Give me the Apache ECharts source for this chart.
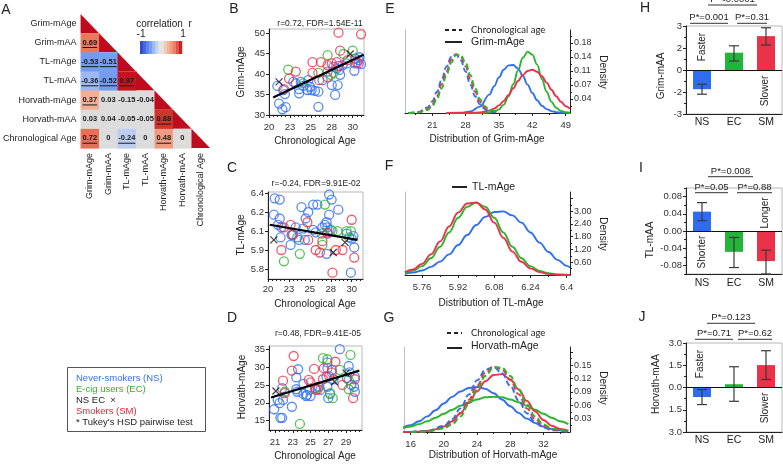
<!DOCTYPE html>
<html><head><meta charset="utf-8">
<script src="https://cdn.jsdelivr.net/npm/echarts@6/dist/echarts.min.js"></script>
<style>html,body{margin:0;padding:0;background:#fff}#c{width:783px;height:464px}</style>
</head><body><div id="c"></div>
<script>
// ---------------- DATA ----------------
// A: correlation matrix (lower triangle)
const corrLabels = ['Grim-mAge','Grim-mAA','TL-mAge','TL-mAA','Horvath-mAge','Horvath-mAA','Chronological Age'];
const corrRows = [[], ['0.69'], ['-0.53','-0.51'], ['-0.36','-0.52','0.97'], ['0.37','0.03','-0.15','-0.04'], ['0.03','0.04','-0.05','-0.05','0.88'], ['0.72','0','-0.24','0','0.48','0']];
const corrSig = [[], [1], [1,1], [1,1,1], [1,0,0,0], [0,0,0,0,1], [1,0,1,0,1,0]];

// B: Grim-mAge vs chronological age
const B_NS = [[21.0,37.1],[21.2,32.8],[21.6,31.4],[22.0,31.9],[21.7,36.1],[21.9,35.1],[22.9,38.1],[23.2,37.7],[23.6,36.3],[23.6,35.3],[23.8,38.1],[24.1,37.1],[24.6,36.1],[24.9,36.9],[24.7,38.5],[25.1,36.1],[25.5,35.9],[25.9,35.7],[25.9,32.0],[26.4,38.5],[27.0,40.6],[27.5,37.3],[27.7,41.8],[27.9,34.9],[28.2,37.3],[28.1,41.4],[28.4,41.0],[28.8,42.2],[29.3,42.6],[30.2,40.8],[30.3,42.6],[30.7,43.4],[30.8,44.1],[31.0,42.4],[30.3,43.8],[28.5,39.8]];
const B_EC = [[22.3,41.1],[24.1,37.7],[25.9,40.3],[27.0,44.6],[27.4,39.8],[27.7,40.3],[30.0,45.7],[28.9,44.9]];
const B_SM = [[28.3,50.1],[31.0,49.7],[28.5,45.7],[23.2,40.6],[22.4,38.9],[25.2,42.9],[25.2,40.3],[26.2,42.9],[27.0,42.2],[27.5,42.6],[28.1,42.9],[29.4,43.4],[30.5,42.8],[30.7,42.6],[27.0,39.2],[26.0,38.5],[21.8,36.3],[28.3,42.0]];
const B_X = [[21.2,38.1],[29.7,44.9]];
const B_fit = [[20.5,34.3],[31.3,44.7]];

// C: TL-mAge vs chronological age
const C_NS = [[20.8,6.36],[21.4,6.35],[20.7,6.23],[21.4,6.20],[21.2,6.15],[21.6,6.13],[21.5,6.05],[22.8,6.07],[23.0,6.07],[22.7,5.99],[23.3,6.13],[23.5,6.05],[23.7,6.03],[24.0,6.29],[24.2,6.12],[24.5,6.20],[24.8,6.25],[24.4,6.03],[25.4,6.31],[25.9,6.31],[25.4,6.11],[25.7,6.09],[26.5,6.13],[26.8,6.15],[27.0,6.17],[27.3,6.39],[27.6,6.35],[27.3,6.23],[27.1,6.13],[27.5,6.11],[27.0,5.92],[27.1,6.08],[28.4,6.27],[29.4,6.08],[29.7,6.05],[30.0,6.04],[30.2,6.06],[30.3,5.97],[29.9,5.77]];
const C_EC = [[21.9,5.86],[23.8,5.92],[26.8,6.31],[26.4,6.08],[26.5,5.99],[27.7,6.10],[28.3,6.10],[29.4,6.10],[29.9,6.10]];
const C_SM = [[21.9,6.13],[22.7,6.15],[21.6,5.95],[22.9,6.07],[24.7,6.17],[24.8,6.03],[25.7,5.95],[26.2,5.93],[26.5,6.02],[27.1,6.09],[28.1,5.95],[28.9,5.95],[30.0,6.19],[30.3,5.89],[27.7,5.77]];
const C_X = [[20.7,6.03],[27.8,5.93],[29.2,6.01]];
const C_fit = [[20.2,6.15],[30.7,6.03]];

// D: Horvath-mAge vs chronological age
const D_NS = [[20.9,18.2],[21.3,20.8],[21.5,19.9],[21.6,15.8],[21.8,15.8],[21.8,24.1],[21.9,20.8],[22.9,18.9],[23.4,27.1],[23.6,29.4],[23.4,23.8],[23.5,23.1],[24.2,25.3],[24.2,22.5],[24.6,22.2],[24.9,23.6],[25.0,21.9],[24.5,21.9],[25.5,24.1],[25.9,24.5],[26.1,23.6],[26.8,27.3],[26.9,29.7],[26.9,31.3],[26.9,24.5],[27.0,21.3],[27.2,22.5],[27.4,29.2],[27.6,26.6],[28.3,35.0],[29.1,26.9],[29.3,30.3],[29.4,28.5],[29.6,25.0],[30.0,27.3],[29.9,24.5],[30.0,23.1]];
const D_EC = [[22.1,23.1],[23.8,14.1],[25.6,24.1],[26.4,32.5],[26.9,32.2],[27.2,22.7],[27.5,21.3],[28.3,29.2],[29.3,26.4],[29.5,33.4],[29.3,23.8]];
const D_SM = [[21.9,26.2],[22.9,29.0],[23.1,33.1],[22.1,22.7],[24.8,26.4],[25.0,25.7],[25.4,29.5],[25.6,23.6],[25.8,23.8],[26.4,26.6],[26.5,29.7],[27.1,27.5],[27.4,28.5],[27.8,31.5],[28.6,25.0],[29.8,21.3],[30.0,26.6]];
const D_X = [[21.1,23.3],[29.0,28.3],[27.7,25.9]];
const D_fit = [[20.55,21.5],[30.5,29.0]];

// E: density of chronological age (dashed) and Grim-mAge (solid)
const chronoX = [16,18,20,21,22,23,24,25,26,27,28,29,30,31,32,33,35];
const chrono_NS = [0,0.002,0.0136,0.029,0.053,0.084,0.116,0.140,0.146,0.132,0.104,0.071,0.042,0.022,0.010,0.004,0];
const chrono_EC = [0,0.001,0.0076,0.017,0.035,0.062,0.095,0.126,0.145,0.145,0.126,0.095,0.062,0.035,0.017,0.0076,0.001];
const chrono_SM = [0,0.0013,0.0097,0.022,0.042,0.072,0.104,0.133,0.147,0.141,0.117,0.085,0.053,0.029,0.014,0.006,0.0006];
const grimX = [24,27,29,31,33,34,35,36,37,38,39,40,41,42,43,44,45,46,47,48,49,49.9];
const grim_NS = [0,0.0007,0.004,0.016,0.046,0.067,0.089,0.108,0.119,0.120,0.111,0.093,0.071,0.050,0.032,0.018,0.0098,0.0047,0.002,0.0008,0.0003,0.0001];
const grim_EC = [0,0,0,0,0.001,0.0033,0.009,0.021,0.041,0.072,0.107,0.138,0.153,0.146,0.121,0.085,0.053,0.028,0.013,0.005,0.0017,0.0005];
const grim_SM = [0,0,0.0002,0.0014,0.006,0.011,0.019,0.030,0.045,0.062,0.080,0.095,0.105,0.108,0.103,0.092,0.076,0.058,0.042,0.028,0.017,0.0105];

// F: density of TL-mAge
const tlX = [5.685,5.72,5.76,5.80,5.84,5.88,5.92,5.96,6.00,6.04,6.08,6.12,6.16,6.20,6.24,6.28,6.32,6.36,6.40,6.415];
const tl_NS = [0.06,0.11,0.21,0.38,0.63,0.97,1.41,1.88,2.35,2.73,2.96,2.99,2.80,2.46,2.00,1.52,1.08,0.71,0.43,0.35];
const tl_EC = [0.10,0.195,0.415,0.79,1.33,2.00,2.69,3.21,3.40,3.21,2.69,2.00,1.33,0.79,0.415,0.195,0.08,0.03,0.01,0.007];
const tl_SM = [0.137,0.256,0.523,0.971,1.575,2.28,2.94,3.36,3.41,3.08,2.46,1.75,1.10,0.62,0.31,0.137,0.053,0.019,0.006,0.004];

// G: density of Horvath-mAge (solid); dashed = chronological age (same as E)
const horX = [15,16,17,18,19,20,21,22,23,24,25,26,27,28,29,30,31,32,33,34,35];
const hor_NS = [0.009,0.015,0.024,0.035,0.049,0.064,0.079,0.091,0.099,0.101,0.097,0.087,0.073,0.058,0.043,0.030,0.020,0.012,0.007,0.004,0.002];
const hor_EC = [0.0084,0.0125,0.0177,0.024,0.032,0.041,0.050,0.059,0.067,0.073,0.078,0.079,0.078,0.073,0.067,0.059,0.050,0.041,0.032,0.024,0.0177];
const hor_SM = [0,0.0003,0.0009,0.0024,0.0058,0.0125,0.024,0.042,0.065,0.091,0.114,0.128,0.130,0.118,0.096,0.070,0.046,0.027,0.014,0.0069,0.003];

// H, I, J: group means with error bars
const groups = ['NS','EC','SM'];
const H_mean = [-1.31, 1.18, 2.31], H_lo = [-1.65, 0.61, 1.70], H_hi = [-0.97, 1.65, 2.88];
const I_mean = [0.045, -0.0485, -0.070], I_lo = [0.024, -0.085, -0.10], I_hi = [0.066, -0.015, -0.0445];
const J_mean = [-0.64, 0.22, 1.51], J_lo = [-1.15, -0.93, 0.54], J_hi = [-0.14, 1.40, 2.48];

// tick values and labels
const B_xTicks = [20,22.5,25,27.5,30], B_xLabels = ['20','23','25','28','30'];
const B_yTicks = [30,35,40,45,50], B_yLabels = ['30','35','40','45','50'];
const C_yTicks = [5.8,5.95,6.1,6.25,6.4], C_yLabels = ['5.8','5.9','6.1','6.2','6.4'];
const D_xTicks = [21,23,25,27,29], D_xLabels = ['21','23','25','27','29'];
const D_yTicks = [15,20,25,30,35], D_yLabels = ['15','20','25','30','35'];
const E_xTicks = [21,28,35,42,49], E_xLabels = ['21','28','35','42','49'];
const E_yTicks = [0.035,0.07,0.105,0.14,0.175], E_yLabels = ['0.04','0.07','0.11','0.14','0.18'];
const F_xTicks = [5.76,5.92,6.08,6.24,6.40], F_xLabels = ['5.76','5.92','6.08','6.24','6.4'];
const F_yTicks = [0.6,1.2,1.8,2.4,3.0,3.6], F_yLabels = ['0.60','1.20','1.80','2.40','3.00',''];
const G_xTicks = [16,20,24,28,32], G_xLabels = ['16','20','24','28','32'];
const G_yTicks = [0.03,0.06,0.09,0.12,0.15,0.18], G_yLabels = ['0.03','0.06','0.09','0.12','0.15',''];
const H_yTicks = [-3,-1.5,0,1.5,3], H_yLabels = ['-3','-2','0','2','3'];
const I_yTicks = [-0.08,-0.04,0,0.04,0.08], I_yLabels = ['-0.08','-0.04','0.00','0.04','0.08'];
const J_yTicks = [-3,-1.5,0,1.5,3], J_yLabels = ['3.0','1.5','0.0','1.5','3.0'];

// ---------------- STYLE ----------------
const FONT = "'Liberation Sans', Arial, sans-serif";
const C_NSc = '#2f6ff0', C_ECc = '#2db52e', C_SMc = '#e8334a';
const BAR_COLORS = ['#2f6cf3', '#22b53a', '#ea3249'];
const DIAG = '#c00a1e';

const grids = [], xAxes = [], yAxes = [], series = [], graphics = [];
function grid(l,t,w,h,show){ grids.push({left:l,top:t,width:w,height:h,show:!!show,borderColor:'#b8b8b8',borderWidth:1}); return grids.length-1; }
function fmt(v,ticks,labels){ for(let i=0;i<ticks.length;i++){ if(Math.abs(v-ticks[i])<1e-7) return labels[i]; } return ''; }
function vAxis(kind,g,pos,min,max,ticks,labels,o){
  o=o||{};
  const ax = {type:'value',gridIndex:g,position:pos,min,max,
    axisLine:{show:true,onZero:false,lineStyle:{color:'#222',width:1}},
    axisTick:{show:true,inside:false,length:3,customValues:ticks,lineStyle:{color:'#222',width:1}},
    axisLabel:{show:true,customValues:ticks,margin:o.margin==null?4:o.margin,fontSize:o.size||9.5,fontFamily:FONT,color:'#333',
      formatter:(v)=>fmt(v,ticks,labels)},
    splitLine:{show:false}};
  if(kind==='x'){ xAxes.push(ax); return xAxes.length-1; } yAxes.push(ax); return yAxes.length-1;
}
function mAxis(kind,g,pos,min,max,vals){
  const ax = {type:'value',gridIndex:g,position:pos,min,max,axisLine:{show:false},
    axisTick:{show:true,length:2,customValues:vals,lineStyle:{color:'#222',width:1}},
    axisLabel:{show:false},splitLine:{show:false}};
  if(kind==='x'){ xAxes.push(ax); return xAxes.length-1; } yAxes.push(ax); return yAxes.length-1;
}
function plainAxis(kind,g,pos,min,max,color){
  const ax = {type:'value',gridIndex:g,position:pos,min,max,axisLine:{show:true,onZero:false,lineStyle:{color:color,width:1}},
    axisTick:{show:false},axisLabel:{show:false},splitLine:{show:false}};
  if(kind==='x'){ xAxes.push(ax); return xAxes.length-1; } yAxes.push(ax); return yAxes.length-1;
}
function minors(min,max,step,majors){ const out=[]; for(let v=Math.ceil(min/step)*step; v<=max+1e-9; v+=step){ const r=Math.round(v*1e6)/1e6; if(!majors.some(m=>Math.abs(m-r)<1e-7)) out.push(r);} return out; }

function txt(x,y,text,o){ o=o||{}; graphics.push({type:'text',x,y,rotation:o.rot||0,z:100,silent:true,
  style:{text,fill:o.color||'#222',fontSize:o.size||10,fontWeight:o.weight||'normal',fontFamily:o.family||FONT,
  align:o.align||'center',verticalAlign:'middle',textAlign:o.align||'center',textVerticalAlign:'middle'}}); }
function ln(x1,y1,x2,y2,o){ o=o||{}; graphics.push({type:'line',z:100,silent:true,shape:{x1,y1,x2,y2},style:{stroke:o.color||'#222',lineWidth:o.w||1,lineDash:o.dash||null}}); }

function scat(xi,yi,data,color){ series.push({type:'scatter',xAxisIndex:xi,yAxisIndex:yi,data,symbol:'circle',symbolSize:9,
  itemStyle:{color:'rgba(255,255,255,0)',borderColor:color,borderWidth:1.3},silent:true,z:3}); }
function cross(xi,yi,data){ series.push({type:'scatter',xAxisIndex:xi,yAxisIndex:yi,data,symbol:'path://M0 0L10 10M10 0L0 10',symbolSize:7,
  itemStyle:{color:'rgba(0,0,0,0)',borderColor:'#111',borderWidth:1.2},silent:true,z:4}); }
function fitLine(xi,yi,data){ series.push({type:'line',xAxisIndex:xi,yAxisIndex:yi,data,symbol:'none',lineStyle:{color:'#000',width:2.2},silent:true,z:6}); }
function curve(xi,yi,xs,ys,color,dashed){ series.push({type:'line',xAxisIndex:xi,yAxisIndex:yi,data:xs.map((x,i)=>[x,ys[i]]),
  smooth:0.4,smoothMonotone:'x',symbol:'none',clip:true,lineStyle:{color,width:1.9,type:dashed?[6,3]:'solid'},silent:true,z:dashed?4:3}); }

// ---------------- A: heatmap ----------------
const gA = grid(76,14,134,134,false);
xAxes.push({type:'category',gridIndex:gA,data:corrLabels,position:'bottom',axisLine:{show:false},axisTick:{show:false},
  axisLabel:{rotate:90,interval:0,margin:5,fontSize:9,fontFamily:FONT,color:'#222'},splitLine:{show:false}});
const xA = xAxes.length-1;
yAxes.push({type:'category',gridIndex:gA,data:corrLabels,inverse:true,axisLine:{show:false},axisTick:{show:false},
  axisLabel:{interval:0,margin:4,fontSize:9,fontFamily:FONT,color:'#222'},splitLine:{show:false}});
const yA = yAxes.length-1;
const heatItems = [];
for(let r=0;r<corrLabels.length;r++){
  for(let c=0;c<=r;c++){
    if(c===r) heatItems.push({c,r,diag:true});
    else heatItems.push({c,r,txt:corrRows[r][c],v:parseFloat(corrRows[r][c]),sig:!!corrSig[r][c]});
  }
}
const cStops = [[-1,[40,62,205]],[-0.5,[120,160,242]],[-0.25,[186,205,240]],[0,[236,236,236]],[0.4,[243,170,142]],[0.7,[233,118,90]],[0.9,[206,44,40]],[1,[192,10,30]]];
function corrColor(v){
  for(let i=0;i<cStops.length-1;i++){ const a=cStops[i],b=cStops[i+1]; if(v<=b[0]){ const t=(v-a[0])/(b[0]-a[0]);
    const c=a[1].map((x,k)=>Math.round(x+(b[1][k]-x)*t)); return 'rgb('+c.join(',')+')'; } }
  return 'rgb(192,10,30)';
}
const mctx = document.createElement('canvas').getContext('2d');
mctx.font = "bold 7.5px 'Liberation Sans'";
series.push({type:'custom',xAxisIndex:xA,yAxisIndex:yA,data:heatItems.map(it=>[it.c,it.r]),silent:true,z:2,
  renderItem:function(params,api){
    const it = heatItems[params.dataIndex];
    const p = api.coord([it.c,it.r]); const s = api.size([1,1]);
    const x0=p[0]-s[0]/2, y0=p[1]-s[1]/2, w=s[0], h=s[1];
    if(it.diag) return {type:'polygon',shape:{points:[[x0,y0],[x0,y0+h],[x0+w,y0+h]]},style:{fill:DIAG}};
    const fill = it.sig ? corrColor(it.v) : '#dcdcdc';
    const ch = [{type:'rect',shape:{x:x0,y:y0,width:w+0.6,height:h+0.6},style:{fill}}];
    ch.push({type:'text',style:{text:it.txt,x:p[0],y:p[1],align:'center',verticalAlign:'middle',textAlign:'center',textVerticalAlign:'middle',
      fontSize:7.5,fontWeight:'bold',fontFamily:'Liberation Sans',fill:'#1a1a1a'}});
    if(it.sig){ const tw = mctx.measureText(it.txt).width; ch.push({type:'line',shape:{x1:p[0]-tw/2,y1:p[1]+4.8,x2:p[0]+tw/2,y2:p[1]+4.8},style:{stroke:'#1a1a1a',lineWidth:1}}); }
    return {type:'group',children:ch};
  }});
// colour bar
txt(164,24,'correlation  r',{size:10});
txt(141,34.5,'-1',{size:10});
txt(183,34.5,'1',{size:10});
for(let i=0;i<14;i++){ const v=-1+(i+0.5)*2/14; graphics.push({type:'rect',z:100,silent:true,shape:{x:140+i*3,y:41,width:3.2,height:13},style:{fill:corrColor(v)}}); }
txt(6,10,'A',{size:14});

// ---------------- B, C, D scatter ----------------
function scatterPanel(l,t,w,h,xr,yr,xT,xL,yT,yL,xm,ym,NS,EC,SM,X,fit,xMinorStep){
  const g = grid(l,t,w,h,true);
  const xi = vAxis('x',g,'bottom',xr[0],xr[1],xT,xL,{margin:xm});
  const yi = vAxis('y',g,'left',yr[0],yr[1],yT,yL,{margin:ym});
  mAxis('x',g,'bottom',xr[0],xr[1],minors(xr[0],xr[1],xMinorStep,xT));
  scat(xi,yi,NS,C_NSc); scat(xi,yi,EC,C_ECc); scat(xi,yi,SM,C_SMc); cross(xi,yi,X); fitLine(xi,yi,fit);
}
scatterPanel(269,29,95,86,[20,31.35],[30,51],B_xTicks,B_xLabels,B_yTicks,B_yLabels,7,4,B_NS,B_EC,B_SM,B_X,B_fit,0.5);
scatterPanel(268,192,95,87,[20,31.35],[5.72,6.41],B_xTicks,B_xLabels,C_yTicks,C_yLabels,5,4,C_NS,C_EC,C_SM,C_X,C_fit,0.5);
scatterPanel(269,346,93,84,[20.32,30.8],[12.4,35.9],D_xTicks,D_xLabels,D_yTicks,D_yLabels,7,4,D_NS,D_EC,D_SM,D_X,D_fit,0.5);
txt(234,9,'B',{size:14}); txt(232,168,'C',{size:14}); txt(232,318,'D',{size:14});
txt(320,23.5,'r=0.72, FDR=1.54E-11',{size:8.5});
txt(316,183.5,'r=-0.24, FDR=9.91E-02',{size:8.5});
txt(318,333.5,'r=0.48, FDR=9.41E-05',{size:8.5});
txt(241,72,'Grim-mAge',{size:10,rot:Math.PI/2});
txt(241,235,'TL-mAge',{size:10,rot:Math.PI/2});
txt(242,387,'Horvath-mAge',{size:10,rot:Math.PI/2});
txt(315,141.5,'Chronological Age',{size:10});
txt(315,304,'Chronological Age',{size:10});
txt(315,456.5,'Chronological Age',{size:10});

// ---------------- E, F, G densities ----------------
function densPanel(l,t,w,h,xr,yr,xT,xL,yT,yL,xMin,yMin){
  const g = grid(l,t,w,h,false);
  const xi = vAxis('x',g,'bottom',xr[0],xr[1],xT,xL,{margin:7,size:9.5});
  const yi = vAxis('y',g,'right',yr[0],yr[1],yT,yL,{margin:4,size:9});
  mAxis('x',g,'bottom',xr[0],xr[1],xMin);
  mAxis('y',g,'right',yr[0],yr[1],yMin);
  plainAxis('y',g,'left',yr[0],yr[1],'#bdbdbd');
  return [xi,yi];
}
let ax = densPanel(405,30,165,83,[15.3,49.9],[0,0.2075],E_xTicks,E_xLabels,E_yTicks,E_yLabels,[17.5,24.5,31.5,38.5,45.5],[0.0175,0.0525,0.0875,0.1225,0.1575,0.1925]);
curve(ax[0],ax[1],grimX,grim_NS,C_NSc,false); curve(ax[0],ax[1],grimX,grim_EC,C_ECc,false); curve(ax[0],ax[1],grimX,grim_SM,C_SMc,false);
curve(ax[0],ax[1],chronoX,chrono_NS,C_NSc,true); curve(ax[0],ax[1],chronoX,chrono_SM,C_SMc,true); curve(ax[0],ax[1],chronoX,chrono_EC,C_ECc,true);
ax = densPanel(405,192,165,83,[5.685,6.415],[0,3.9],F_xTicks,F_xLabels,F_yTicks,F_yLabels,[5.84,6.0,6.16,6.32],[0.3,0.9,1.5,2.1,2.7,3.3]);
curve(ax[0],ax[1],tlX,tl_NS,C_NSc,false); curve(ax[0],ax[1],tlX,tl_EC,C_ECc,false); curve(ax[0],ax[1],tlX,tl_SM,C_SMc,false);
ax = densPanel(404,347,166,85,[15.2,35.2],[0,0.191],G_xTicks,G_xLabels,G_yTicks,G_yLabels,[18,22,26,30,34],[0.015,0.045,0.075,0.105,0.135,0.165]);
curve(ax[0],ax[1],horX,hor_NS,C_NSc,false); curve(ax[0],ax[1],horX,hor_EC,C_ECc,false); curve(ax[0],ax[1],horX,hor_SM,C_SMc,false);
curve(ax[0],ax[1],chronoX,chrono_NS,C_NSc,true); curve(ax[0],ax[1],chronoX,chrono_SM,C_SMc,true); curve(ax[0],ax[1],chronoX,chrono_EC,C_ECc,true);
txt(390,9,'E',{size:14}); txt(389,166,'F',{size:14}); txt(389,318,'G',{size:14});
// legends
ln(445,30,462,30,{w:2,dash:[4,3]}); txt(471,30,'Chronological age',{size:9.5,align:'left',family:"Lato, 'Open Sans', sans-serif"});
ln(445,42,462,42,{w:2}); txt(471,42,'Grim-mAge',{size:10.5,align:'left'});
ln(452,187,467,187,{w:2}); txt(472,187,'TL-mAge',{size:10.5,align:'left'});
ln(447,333,462,333,{w:2,dash:[4,3]}); txt(471,333,'Chronological age',{size:9.5,align:'left',family:"Lato, 'Open Sans', sans-serif"});
ln(447,348,462,348,{w:2}); txt(471,346,'Horvath-mAge',{size:10.5,align:'left'});
txt(487,139.5,'Distribution of Grim-mAge',{size:10});
txt(491,303,'Distribution of TL-mAge',{size:10});
txt(493,455.5,'Distribution of Horvath-mAge',{size:10});
txt(603,72,'Density',{size:10,rot:-Math.PI/2});
txt(603,234,'Density',{size:10,rot:-Math.PI/2});
txt(603,388,'Density',{size:10,rot:-Math.PI/2});

// ---------------- H, I, J bars ----------------
function errRender(params,api){
  const x=api.value(0), lo=api.value(1), hi=api.value(2);
  const p1=api.coord([x,hi]), p2=api.coord([x,lo]); const hw=5;
  const st={stroke:'#3a3a3a',lineWidth:1.2};
  return {type:'group',children:[
    {type:'line',shape:{x1:p1[0],y1:p1[1],x2:p2[0],y2:p2[1]},style:st},
    {type:'line',shape:{x1:p1[0]-hw,y1:p1[1],x2:p1[0]+hw,y2:p1[1]},style:st},
    {type:'line',shape:{x1:p2[0]-hw,y1:p2[1],x2:p2[0]+hw,y2:p2[1]},style:st}]};
}
function barPanel(l,t,w,h,yr,yT,yL,yMin,mean,lo,hi,xm){
  const g = grid(l,t,w,h,true);
  xAxes.push({type:'category',gridIndex:g,data:groups,position:'bottom',axisLine:{show:true,onZero:false,lineStyle:{color:'#222'}},axisTick:{show:false},
    axisLabel:{margin:xm,fontSize:10.5,fontFamily:FONT,color:'#222'},splitLine:{show:false}});
  const xi = xAxes.length-1;
  const yi = vAxis('y',g,'left',yr[0],yr[1],yT,yL,{margin:4,size:9.5});
  mAxis('y',g,'left',yr[0],yr[1],yMin);
  series.push({type:'bar',xAxisIndex:xi,yAxisIndex:yi,barWidth:18,silent:true,z:2,
    data:mean.map((v,i)=>({value:v,itemStyle:{color:BAR_COLORS[i]}})),
    markLine:{silent:true,symbol:'none',label:{show:false},lineStyle:{color:'#111',width:1.2,type:'solid'},data:[{yAxis:0}]}});
  series.push({type:'custom',xAxisIndex:xi,yAxisIndex:yi,data:lo.map((v,i)=>[i,v,hi[i]]),renderItem:errRender,silent:true,z:5});
}
barPanel(686,26,96,88,[-3,3],H_yTicks,H_yLabels,[-2.25,-0.75,0.75,2.25],H_mean,H_lo,H_hi,3);
barPanel(686,188,96,86,[-0.1,0.1],I_yTicks,I_yLabels,[-0.1,-0.06,-0.02,0.02,0.06,0.1],I_mean,I_lo,I_hi,3.5);
barPanel(686,343,96,89,[-3,3],J_yTicks,J_yLabels,[-2.25,-0.75,0.75,2.25],J_mean,J_lo,J_hi,3);
txt(645,8,'H',{size:14}); txt(641,168,'I',{size:14}); txt(642,317,'J',{size:14});
txt(661,76,'Grim-mAA',{size:10,rot:Math.PI/2});
txt(650,240,'TL-mAA',{size:10,rot:Math.PI/2});
txt(656,384,'Horvath-mAA',{size:10,rot:Math.PI/2});
// annotations
txt(702,47,'Faster',{size:10,rot:Math.PI/2}); txt(765.5,91,'Slower',{size:10,rot:Math.PI/2});
txt(702,252,'Shorter',{size:10,rot:Math.PI/2}); txt(765,213,'Longer',{size:10,rot:Math.PI/2});
txt(700,364,'Faster',{size:10,rot:Math.PI/2}); txt(765,408,'Slower',{size:10,rot:Math.PI/2});
function bracket(x1,x2,y,label){ ln(x1,y,x2,y,{color:'#333'}); txt((x1+x2)/2,y-5.5,label,{size:9.5}); }
bracket(690,728,23.3,'P*=0.001'); bracket(737,767,23.3,'P*=0.31'); bracket(708,757,5,'P*<0.0001');
bracket(695,728,192.7,'P*=0.05'); bracket(737,772,192.7,'P*=0.88'); bracket(708,753,176.7,'P*=0.008');
bracket(695,733,339.3,'P*=0.71'); bracket(738,772,339.3,'P*=0.62'); bracket(707,755,323.3,'P*=0.123');

// ---------------- legend box ----------------
graphics.push({type:'rect',z:100,silent:true,shape:{x:67.5,y:367.5,width:138,height:64},style:{fill:'none',stroke:'#555',lineWidth:1}});
txt(76,378,'Never-smokers (NS)',{size:9.5,align:'left',color:C_NSc});
txt(76,389.2,'E-cig users (EC)',{size:9.5,align:'left',color:C_ECc});
txt(76,400.4,'NS EC  \u00d7',{size:9.5,align:'left',color:'#222'});
txt(76,411.6,'Smokers (SM)',{size:9.5,align:'left',color:'#d8283a'});
txt(76,422.8,"* Tukey's HSD pairwise test",{size:9.5,align:'left',color:'#222'});

const chart = echarts.init(document.getElementById('c'));
chart.setOption({animation:false,backgroundColor:'#fff',grid:grids,xAxis:xAxes,yAxis:yAxes,series,graphic:{elements:graphics}});
</script></body></html>
